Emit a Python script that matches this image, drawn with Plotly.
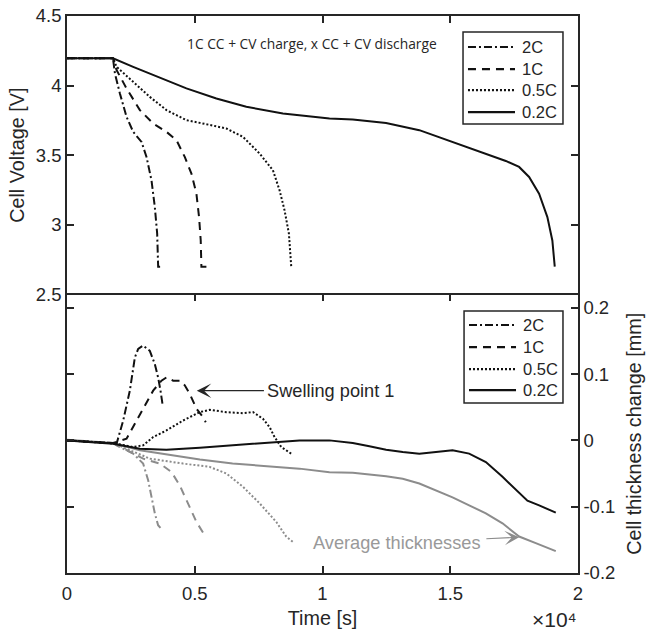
import plotly.graph_objects as go

# ---------------- data ----------------
rates = ["2C", "1C", "0.5C", "0.2C"]
dashes = {"2C": "8px,3px,2px,3px", "1C": "8px,6px", "0.5C": "2px,2px", "0.2C": "solid"}

# Cell voltage during discharge (time in s, voltage in V)
t_v_2c = [0, 1800, 1875, 2070, 2330, 2590, 2917, 3112, 3307, 3437, 3529, 3568, 3710]
v_2c = [4.196, 4.196, 4.088, 3.944, 3.776, 3.668, 3.596, 3.488, 3.32, 3.128, 2.937, 2.70, 2.70]

t_v_1c = [0, 1800, 1940, 2330, 2852, 3372, 3893, 4284, 4609, 4870, 5065, 5169, 5234, 5260, 5456]
v_1c = [4.196, 4.196, 4.112, 3.980, 3.824, 3.728, 3.668, 3.608, 3.488, 3.368, 3.224, 3.056, 2.888, 2.70, 2.70]

t_v_05c = [0, 1800, 1940, 2590, 3242, 3893, 4674, 5456, 6237, 6888, 7539, 8060, 8320, 8516, 8685, 8776]
v_05c = [4.196, 4.196, 4.135, 4.027, 3.919, 3.824, 3.752, 3.723, 3.692, 3.632, 3.512, 3.392, 3.248, 3.104, 2.937, 2.70]

t_v_02c = [0, 1800, 2590, 3633, 4674, 5846, 7018, 8450, 10273, 11185, 12488, 13789, 15090,
           16394, 17175, 17695, 18086, 18477, 18801, 18996, 19090]
v_02c = [4.196, 4.196, 4.135, 4.056, 3.980, 3.908, 3.848, 3.800, 3.764, 3.757, 3.732, 3.680, 3.596,
         3.507, 3.459, 3.416, 3.344, 3.224, 3.056, 2.888, 2.70]

# Cell thickness change (mm), measured
t_d_2c = [0, 1800, 1940, 2200, 2460, 2656, 2786, 2980, 3242, 3437, 3566, 3660, 3737]
d_2c = [0.0, -0.004, -0.005, 0.030, 0.075, 0.125, 0.138, 0.143, 0.135, 0.115, 0.095, 0.075, 0.055]

t_d_1c = [0, 1800, 2330, 2720, 3047, 3372, 3698, 3893, 4154, 4414, 4609, 4805, 5065, 5325, 5430]
d_1c = [0.0, -0.004, 0.0025, 0.030, 0.053, 0.075, 0.090, 0.095, 0.090, 0.090, 0.083, 0.070, 0.048, 0.035, 0.0275]

t_d_05c = [0, 1800, 2590, 2980, 3372, 3893, 4544, 5195, 5586, 6237, 6888, 7280, 7670, 7930, 8125, 8385, 8776]
d_05c = [0.0, -0.004, -0.010, -0.0075, 0.005, 0.015, 0.030, 0.0426, 0.046, 0.0426, 0.041, 0.0426,
         0.0326, 0.020, 0.005, -0.010, -0.020]

t_d_02c = [0, 1800, 2850, 3890, 5200, 6480, 7800, 9100, 10270, 10530, 11185, 11836, 12490, 13140,
           13790, 14440, 15090, 15740, 16394, 17045, 17695, 18020, 18480, 18870, 19130]
d_02c = [0.0, -0.005, -0.0125, -0.014, -0.011, -0.0075, -0.0035, 0.0, 0.0, -0.001, -0.004, -0.009,
         -0.014, -0.0175, -0.020, -0.0175, -0.015, -0.020, -0.0326, -0.055, -0.080, -0.091, -0.098,
         -0.104, -0.109]

# Average thickness change (mm)
t_a_2c = [1800, 1940, 2590, 2980, 3176, 3307, 3437, 3566, 3723]
a_2c = [-0.004, -0.0075, -0.020, -0.035, -0.060, -0.085, -0.110, -0.128, -0.135]

t_a_1c = [1800, 2330, 2980, 3633, 4089, 4414, 4740, 5065, 5390]
a_1c = [-0.004, -0.015, -0.0275, -0.035, -0.0476, -0.068, -0.095, -0.123, -0.143]

t_a_05c = [1800, 2330, 3242, 4544, 5586, 6237, 6888, 7540, 8190, 8580, 8840]
a_05c = [-0.004, -0.0125, -0.0275, -0.035, -0.040, -0.050, -0.070, -0.095, -0.123, -0.145, -0.153]

t_a_02c = [0, 1800, 2850, 3890, 5200, 6480, 7800, 9100, 10273, 11185, 12490, 13140, 13790, 14440,
           15090, 15740, 16394, 17045, 17695, 18347, 19130]
a_02c = [0.001, -0.004, -0.015, -0.021, -0.029, -0.035, -0.039, -0.0426, -0.048, -0.049, -0.054,
         -0.058, -0.065, -0.075, -0.086, -0.098, -0.110, -0.125, -0.145, -0.155, -0.167]

x_tickvals = [0, 5000, 10000, 15000, 20000]
x_ticktext = ["0", "0.5", "1", "1.5", "2"]
v_ticks = [2.5, 3, 3.5, 4, 4.5]
v_ticktext = ["2.5", "3", "3.5", "4", "4.5"]
d_ticks = [-0.2, -0.1, 0, 0.1, 0.2]
d_ticktext = ["-0.2", "-0.1", "0", "0.1", "0.2"]

voltage = {"2C": (t_v_2c, v_2c), "1C": (t_v_1c, v_1c), "0.5C": (t_v_05c, v_05c), "0.2C": (t_v_02c, v_02c)}
thick = {"2C": (t_d_2c, d_2c), "1C": (t_d_1c, d_1c), "0.5C": (t_d_05c, d_05c), "0.2C": (t_d_02c, d_02c)}
avg = {"2C": (t_a_2c, a_2c), "1C": (t_a_1c, a_1c), "0.5C": (t_a_05c, a_05c), "0.2C": (t_a_02c, a_02c)}

BLACK = "#111111"
GRAY = "#8c8c8c"
AXC = "#262626"
FONT = "Liberation Sans, Arial, sans-serif"
TICK_SIZE = 18.5
TITLE_SIZE = 19.8

fig = go.Figure()

for r in rates:
    t, v = voltage[r]
    fig.add_trace(go.Scatter(x=t, y=v, mode="lines", name=r, xaxis="x2", yaxis="y2",
                             line=dict(color=BLACK, width=2, dash=dashes[r]), showlegend=False))
for r in rates:
    t, a = avg[r]
    fig.add_trace(go.Scatter(x=t, y=a, mode="lines", name=r + " avg", xaxis="x", yaxis="y",
                             line=dict(color=GRAY, width=2, dash=dashes[r]), showlegend=False))
for r in rates:
    t, d = thick[r]
    fig.add_trace(go.Scatter(x=t, y=d, mode="lines", name=r, xaxis="x", yaxis="y",
                             line=dict(color=BLACK, width=2, dash=dashes[r]), showlegend=False))

axis_common = dict(showline=True, linecolor=AXC, linewidth=1.5, ticks="inside", automargin=False,
                   ticklen=7, tickwidth=1.5, tickcolor=AXC, showgrid=False, zeroline=False,
                   tickfont=dict(family=FONT, size=TICK_SIZE, color=AXC))

fig.update_layout(
    width=647, height=629,
    margin=dict(l=67, r=69, t=16, b=56),
    plot_bgcolor="white", paper_bgcolor="white",
    font=dict(family=FONT, color=AXC),
    # thickness panel (bottom); its mirrored top line is the shared divider
    xaxis=dict(domain=[0, 1], anchor="y", range=[0, 20000], tickvals=x_tickvals, ticktext=x_ticktext,
               mirror="ticks", ticklabelstandoff=3,
               title=dict(text="Time [s]", font=dict(family=FONT, size=TITLE_SIZE, color=AXC), standoff=10),
               **axis_common),
    yaxis=dict(domain=[0, 0.5], anchor="x", side="right", range=[-0.2, 0.22], tickvals=d_ticks,
               ticktext=d_ticktext, mirror="ticks",
               title=dict(text="Cell thickness change [mm]",
                          font=dict(family=FONT, size=TITLE_SIZE, color=AXC), standoff=13),
               **axis_common),
    # voltage panel (top)
    xaxis2=dict(domain=[0, 1], anchor="y2", side="top", range=[0, 20000], tickvals=x_tickvals,
                showticklabels=False, mirror=False, **axis_common),
    yaxis2=dict(domain=[0.5, 1], anchor="x2", range=[2.5, 4.5], tickvals=v_ticks, ticktext=v_ticktext,
                mirror="ticks",
                title=dict(text="Cell Voltage [V]", font=dict(family=FONT, size=TITLE_SIZE, color=AXC),
                           standoff=6),
                **axis_common),
    showlegend=False,
)

# x-axis multiplier
fig.add_annotation(xref="paper", yref="paper", x=1.0, y=-0.106, xanchor="right", yanchor="bottom",
                   text="×10⁴", showarrow=False, borderpad=0,
                   font=dict(family=FONT, size=21, color=AXC))

# condition text in the voltage panel
fig.add_annotation(xref="x2", yref="y2", x=9570, y=4.306, text="1C CC + CV charge, x CC + CV discharge",
                   showarrow=False, font=dict(family="Open Sans, sans-serif", size=13.8, color=AXC))

# swelling point callout
fig.add_annotation(xref="x", yref="y", x=5080, y=0.075, axref="x", ayref="y", ax=10330, ay=0.075,
                   text="Swelling point 1", showarrow=True, arrowhead=3, arrowsize=2.2, arrowwidth=1.1,
                   arrowcolor=AXC, standoff=0, startstandoff=2,
                   font=dict(family=FONT, size=18.2, color=AXC))

# average thickness callout
fig.add_annotation(xref="x", yref="y", x=17695, y=-0.146, axref="x", ayref="y", ax=12910, ay=-0.155,
                   text="Average thicknesses", showarrow=True, arrowhead=3, arrowsize=2.2, arrowwidth=1.1,
                   arrowcolor=GRAY, standoff=0, startstandoff=4,
                   font=dict(family=FONT, size=18.2, color="#999999"))


# legend boxes drawn in paper coordinates
def draw_legend(x0, x1, y0, y1, rows):
    fig.add_shape(type="rect", xref="paper", yref="paper", x0=x0, x1=x1, y0=y0, y1=y1,
                  line=dict(color=AXC, width=1.5), fillcolor="white", layer="above")
    for r, yy in zip(rates, rows):
        fig.add_shape(type="line", xref="paper", yref="paper", x0=x0 + 0.0097, x1=x0 + 0.1017,
                      y0=yy, y1=yy, line=dict(color=BLACK, width=2.2, dash=dashes[r]), layer="above")
        fig.add_annotation(xref="paper", yref="paper", x=x0 + 0.1115, y=yy, xanchor="left",
                           yanchor="middle", text=r, showarrow=False,
                           font=dict(family=FONT, size=16.5, color=AXC))


draw_legend(0.775, 0.9706, 0.806, 0.9713, [0.9443, 0.9048, 0.8671, 0.8276])
draw_legend(0.777, 0.9706, 0.3052, 0.4704, [0.4452, 0.4057, 0.3662, 0.3285])

fig.write_html("out.html")
